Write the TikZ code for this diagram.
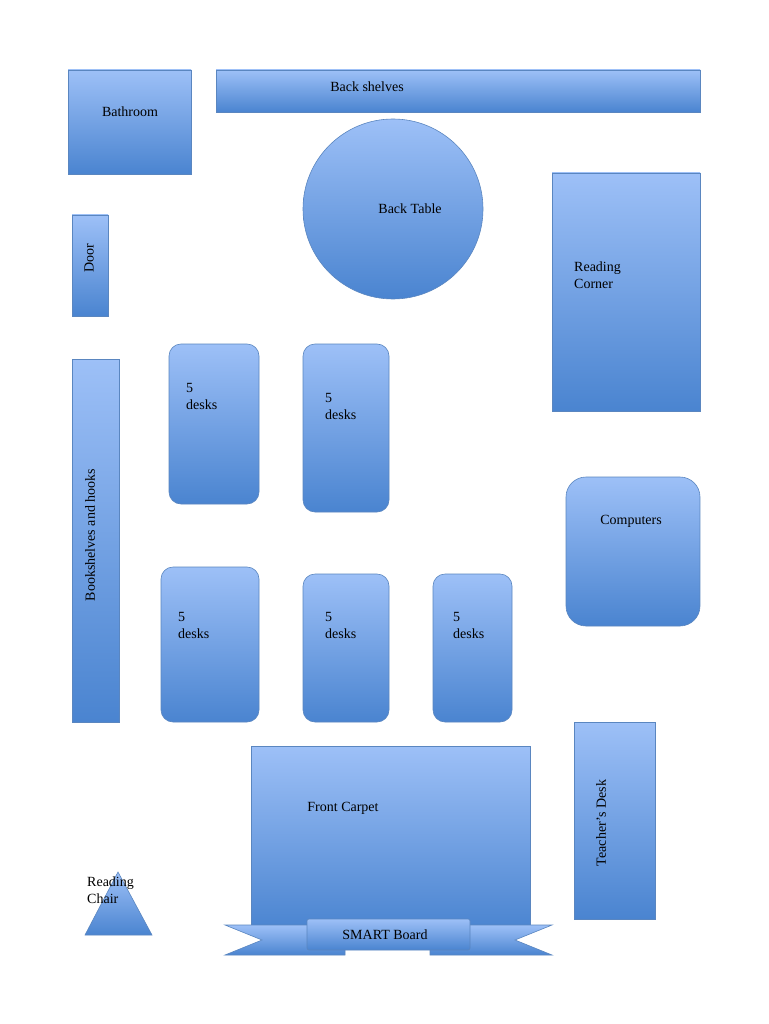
\documentclass[tikz,border=0pt]{standalone}
\usepackage{fontspec}
\setmainfont{Liberation Serif}
\begin{document}
\begin{tikzpicture}[x=1pt,y=-1pt,
  blu/.style={top color=blue1,bottom color=blue2,draw=edge,line width=0.6pt},
  lbl/.style={font=\fontsize{14}{17}\selectfont,text=black,inner sep=0pt},
  desk/.style={blu,rounded corners=12pt}]
\definecolor{blue1}{HTML}{9DC0F7}
\definecolor{blue2}{HTML}{4A84D0}
\definecolor{edge}{HTML}{5A86C0}
\useasboundingbox (0,0) rectangle (768,1024);
\fill[white] (0,0) rectangle (768,1024);
% rooms
\path[blu] (68,70) rectangle (191,174);
\node[lbl] (bath) at (130,112) {Bathroom};
\path[blu] (216,70) rectangle (700,112);
\node[lbl] (shel) at (367,87) {Back shelves};
\path[blu] (393,209) circle (90);
\node[lbl] (tab) at (410,209) {Back Table};
\path[blu] (552,173) rectangle (700,411);
\node[lbl,align=left,anchor=west] (read) at (574,275) {Reading\\Corner};
\path[blu] (72,215) rectangle (108,316);
\node[lbl,rotate=90] (door) at (89,258) {Door};
\path[blu] (72,359) rectangle (119,722);
\node[lbl,rotate=90] (book) at (90,535) {Bookshelves and hooks};
% desks
\path[desk] (169,344) rectangle (259,504);
\node[lbl,align=left,anchor=west] (d1) at (186,396) {5\\desks};
\path[desk] (303,344) rectangle (389,512);
\node[lbl,align=left,anchor=west] (d2) at (325,406) {5\\desks};
\path[desk] (161,567) rectangle (259,722);
\node[lbl,align=left,anchor=west] (d3) at (178,625) {5\\desks};
\path[desk] (303,574) rectangle (389,722);
\node[lbl,align=left,anchor=west] (d4) at (325,625) {5\\desks};
\path[desk] (433,574) rectangle (512,722);
\node[lbl,align=left,anchor=west] (d5) at (453,625) {5\\desks};
\path[blu,rounded corners=20pt] (566,477) rectangle (700,626);
\node[lbl] (comp) at (631,521) {Computers};
\path[blu] (574,722) rectangle (655,919);
\node[lbl,rotate=90] (teach) at (601,823) {Teacher’s Desk};
\path[blu] (251,746) rectangle (530,930);
\node[lbl] (carp) at (343,808) {Front Carpet};
% ribbon
\path[blu] (225,925) -- (345,925) -- (345,955) -- (225,955) -- (262,940) -- cycle;
\path[blu] (552,925) -- (430,925) -- (430,955) -- (552,955) -- (515,940) -- cycle;
\path[blu,rounded corners=2pt] (307,919) rectangle (470,950);
\node[lbl] (smart) at (385,935) {SMART Board};
% chair
\path[blu] (118,872) -- (152,935) -- (85,935) -- cycle;
\node[lbl,align=left,anchor=west] (chair) at (87,890) {Reading\\Chair};
\end{tikzpicture}
\end{document}
